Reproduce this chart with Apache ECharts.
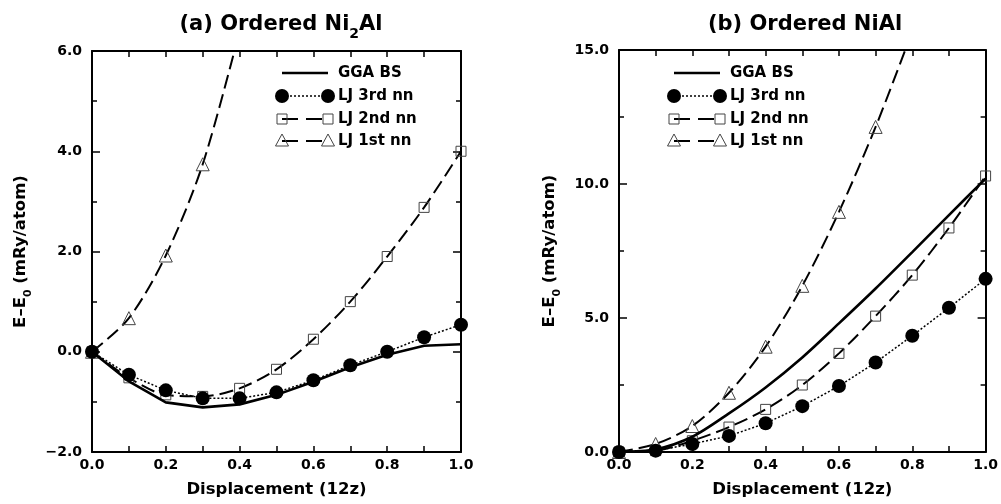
<!DOCTYPE html>
<html>
<head>
<meta charset="utf-8">
<script src="https://cdn.jsdelivr.net/npm/echarts@6/dist/echarts.min.js"></script>
<style>
  html, body { margin: 0; padding: 0; background: #fff; }
  #chart { width: 1001px; height: 504px; }
</style>
</head>
<body>
<div id="chart"></div>
<script>
// displacement values (12z)
const disp = [0, 0.1, 0.2, 0.3, 0.4, 0.5, 0.6, 0.7, 0.8, 0.9, 1.0];

// (a) Ordered Ni2Al
const aGGA = [0, -0.59, -1.01, -1.11, -1.05, -0.86, -0.6, -0.31, -0.06, 0.12, 0.15];
const aLJ3 = [0, -0.46, -0.77, -0.93, -0.93, -0.81, -0.57, -0.27, 0.0, 0.29, 0.54];
const aLJ2 = [0, -0.52, -0.86, -0.89, -0.73, -0.35, 0.25, 1.0, 1.9, 2.88, 4.0];
const aLJ1 = [0, 0.67, 1.92, 3.74, 6.4];

// (b) Ordered NiAl
const bGGA = [0, 0.1, 0.57, 1.44, 2.41, 3.53, 4.8, 6.1, 7.46, 8.84, 10.2];
const bLJ3 = [0, 0.05, 0.3, 0.6, 1.07, 1.71, 2.46, 3.34, 4.34, 5.38, 6.46];
const bLJ2 = [0, 0.05, 0.42, 0.93, 1.59, 2.5, 3.68, 5.07, 6.6, 8.36, 10.3];
const bLJ1 = [0, 0.3, 0.97, 2.21, 3.93, 6.2, 8.96, 12.13, 15.7];

const legendNames = ['GGA BS', 'LJ 3rd nn', 'LJ 2nd nn', 'LJ 1st nn'];
const xTicks = [0, 0.2, 0.4, 0.6, 0.8, 1.0];
const aYTicks = [-2, 0, 2, 4, 6];
const bYTicks = [0, 5, 10, 15];

const FONT = '"DejaVu Sans", sans-serif';
const DASH = [14, 6];
const DOT = [2, 2];

function pairs(ys) {
  return ys.map((y, i) => [disp[i], y]);
}

function fmt(v) {
  const s = Math.abs(v).toFixed(1);
  return v < 0 ? '\u2212' + s : s;
}

function xAxes(grid) {
  const base = {
    type: 'value', gridIndex: grid,
    min: xTicks[0], max: xTicks[xTicks.length - 1],
    interval: xTicks[1] - xTicks[0],
    splitLine: { show: false },
    axisLine: { onZero: false, lineStyle: { color: '#000', width: 2 } },
    axisTick: { inside: true, length: 6, lineStyle: { color: '#000', width: 1.5 } },
    minorTick: { show: true, splitNumber: 2, length: 6, lineStyle: { color: '#000', width: 1.5 } }
  };
  return [
    Object.assign({}, base, {
      position: 'bottom',
      name: 'Displacement (12z)',
      nameLocation: 'middle',
      nameGap: 29,
      nameTextStyle: { fontFamily: FONT, fontWeight: 'bold', fontSize: 16.5, color: '#000' },
      axisLabel: { margin: 6, fontFamily: FONT, fontWeight: 'bold', fontSize: 14, color: '#000', formatter: fmt }
    }),
    Object.assign({}, base, { position: 'top', axisLabel: { show: false } })
  ];
}

function yAxes(grid, ticks, gap) {
  const base = {
    type: 'value', gridIndex: grid,
    min: ticks[0], max: ticks[ticks.length - 1],
    interval: ticks[1] - ticks[0],
    splitLine: { show: false },
    axisLine: { onZero: false, lineStyle: { color: '#000', width: 2 } },
    axisTick: { inside: true, length: 8, lineStyle: { color: '#000', width: 1.5 } },
    minorTick: { show: true, splitNumber: 2, length: 5, lineStyle: { color: '#000', width: 1.5 } }
  };
  return [
    Object.assign({}, base, {
      position: 'left',
      name: 'E\u2013E{sub|0} (mRy/atom)',
      nameLocation: 'middle',
      nameGap: gap,
      nameTextStyle: {
        fontFamily: FONT, fontWeight: 'bold', fontSize: 16.5, color: '#000', lineHeight: 26,
        rich: { sub: { fontFamily: FONT, fontWeight: 'bold', fontSize: 11, lineHeight: 12, verticalAlign: 'bottom', color: '#000' } }
      },
      axisLabel: { margin: 10, fontFamily: FONT, fontWeight: 'bold', fontSize: 14, color: '#000', formatter: fmt }
    }),
    Object.assign({}, base, { position: 'right', axisLabel: { show: false } })
  ];
}

function panelSeries(grid, gga, lj3, lj2, lj1) {
  const xi = grid * 2, yi = grid * 2;
  return [
    {
      name: legendNames[2], type: 'line', xAxisIndex: xi, yAxisIndex: yi,
      data: pairs(lj2), smooth: 0.3, symbol: 'rect', symbolSize: 10,
      lineStyle: { color: '#000', width: 2, type: DASH },
      itemStyle: { color: 'rgba(0,0,0,0)', borderColor: '#444', borderWidth: 1 }, z: 2
    },
    {
      name: legendNames[3], type: 'line', xAxisIndex: xi, yAxisIndex: yi,
      data: pairs(lj1), smooth: 0.3, symbol: 'triangle', symbolSize: 13,
      lineStyle: { color: '#000', width: 2, type: DASH },
      itemStyle: { color: 'rgba(0,0,0,0)', borderColor: '#444', borderWidth: 1 }, z: 2
    },
    {
      name: legendNames[0], type: 'line', xAxisIndex: xi, yAxisIndex: yi,
      data: pairs(gga), smooth: grid === 1 ? 0.3 : false, symbol: 'none',
      lineStyle: { color: '#000', width: 2.6 }, z: 3
    },
    {
      name: legendNames[1], type: 'line', xAxisIndex: xi, yAxisIndex: yi,
      data: pairs(lj3), symbol: 'circle', symbolSize: 14,
      lineStyle: { color: '#000', width: 1.5, type: DOT },
      itemStyle: { color: '#000' }, z: 4
    }
  ];
}

function legendGraphic(x0) {
  const rows = [73, 96, 119, 141];
  const x1 = x0 + 46;
  const els = [];
  els.push({ type: 'line', shape: { x1: x0, y1: rows[0], x2: x1, y2: rows[0] }, style: { stroke: '#000', lineWidth: 2.6 } });
  els.push({ type: 'line', shape: { x1: x0, y1: rows[1], x2: x1, y2: rows[1] }, style: { stroke: '#000', lineWidth: 1.5, lineDash: DOT } });
  [x0, x1].forEach(cx => els.push({ type: 'circle', shape: { cx: cx, cy: rows[1], r: 7 }, style: { fill: '#000' } }));
  els.push({ type: 'line', shape: { x1: x0, y1: rows[2], x2: x1, y2: rows[2] }, style: { stroke: '#000', lineWidth: 1.8, lineDash: [16, 8] } });
  [x0, x1].forEach(cx => els.push({ type: 'rect', shape: { x: cx - 5, y: rows[2] - 5, width: 10, height: 10 }, style: { fill: 'none', stroke: '#444', lineWidth: 1 } }));
  els.push({ type: 'line', shape: { x1: x0, y1: rows[3], x2: x1, y2: rows[3] }, style: { stroke: '#000', lineWidth: 1.8, lineDash: [16, 8] } });
  [x0, x1].forEach(cx => els.push({ type: 'polygon', shape: { points: [[cx, rows[3] - 7], [cx + 6.5, rows[3] + 5], [cx - 6.5, rows[3] + 5]] }, style: { fill: 'none', stroke: '#444', lineWidth: 1 } }));
  legendNames.forEach((n, i) => els.push({
    type: 'text', x: x0 + 56, y: rows[i],
    style: { text: n, fill: '#000', font: 'bold 15px ' + FONT, textVerticalAlign: 'middle', verticalAlign: 'middle' }
  }));
  return els;
}

const titleStyle = {
  fontFamily: FONT, fontWeight: 'bold', fontSize: 21, color: '#000', lineHeight: 32,
  rich: { sub: { fontFamily: FONT, fontWeight: 'bold', fontSize: 14, lineHeight: 14, verticalAlign: 'bottom', color: '#000' } }
};

const chart = echarts.init(document.getElementById('chart'));
chart.setOption({
  animation: false,
  backgroundColor: '#fff',
  title: [
    { text: '(a) Ordered Ni{sub|2}Al', left: 276, top: 4, textAlign: 'center', textStyle: titleStyle },
    { text: '(b) Ordered NiAl', left: 800, top: 4, textAlign: 'center', textStyle: titleStyle }
  ],
  grid: [
    { left: 92, top: 51, width: 369, height: 401 },
    { left: 619, top: 50, width: 368, height: 402 }
  ],
  xAxis: xAxes(0).concat(xAxes(1)),
  yAxis: yAxes(0, aYTicks, 58).concat(yAxes(1, bYTicks, 56)),
  series: panelSeries(0, aGGA, aLJ3, aLJ2, aLJ1).concat(panelSeries(1, bGGA, bLJ3, bLJ2, bLJ1)),
  graphic: legendGraphic(282).concat(legendGraphic(674))
});
</script>
</body>
</html>
